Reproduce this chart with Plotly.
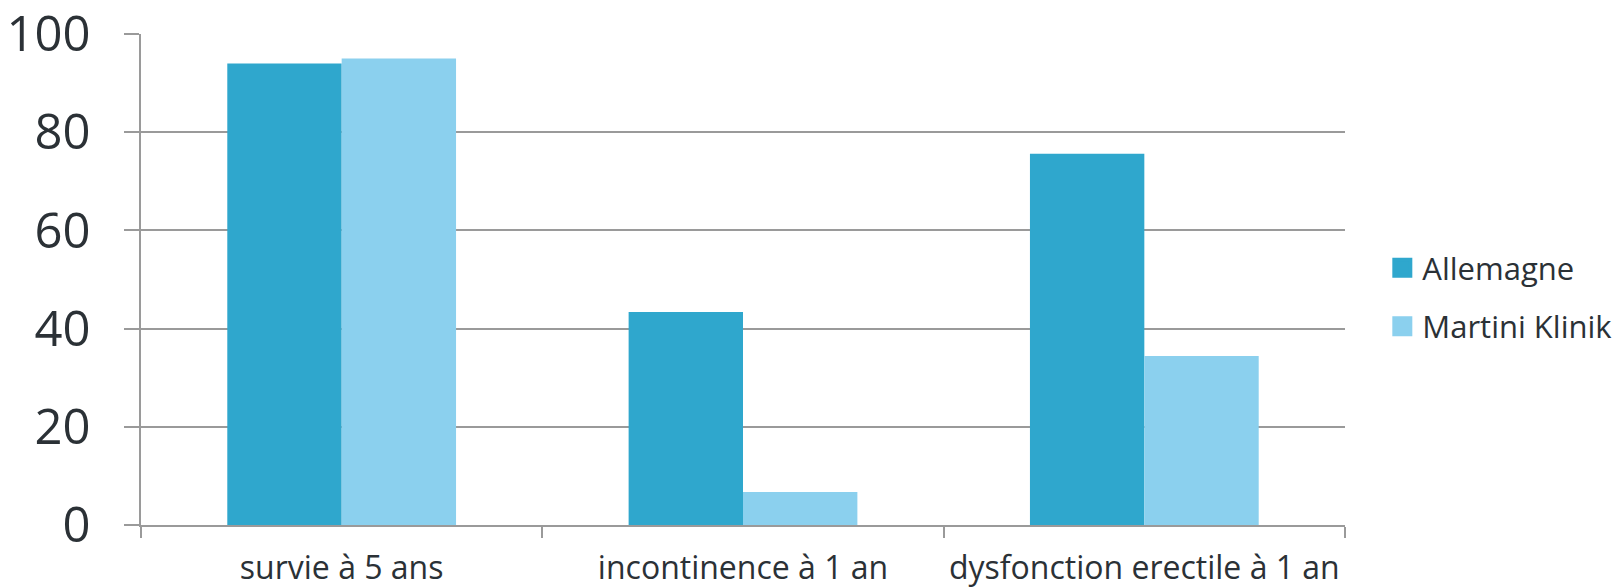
import plotly.graph_objects as go

categories = ["survie à 5 ans", "incontinence à 1 an", "dysfonction erectile à 1 an"]
allemagne = [94, 43.4, 75.6]
martini = [95, 6.7, 34.4]
series_names = ["Allemagne", "Martini Klinik"]
colors = ["#2FA7CD", "#8BD0EE"]
y_ticks = [0, 20, 40, 60, 80, 100]

FONT = "Open Sans"
TXT = "#2b3136"
GRID = "#9a9a9a"

fig = go.Figure()
for name, vals, col in zip(series_names, [allemagne, martini], colors):
    fig.add_trace(go.Bar(x=categories, y=vals, name=name, marker=dict(color=col, line=dict(width=0)),
                         showlegend=False))
for i, (name, col) in enumerate(zip(series_names, colors)):
    fig.add_trace(go.Scatter(x=[None], y=[None], mode="markers", name=name,
                             legendgroup=f"g{i}",
                             marker=dict(symbol="square", size=16, color=col,
                                         line=dict(color=col, width=4))))

fig.update_layout(
    width=1618, height=587,
    margin=dict(l=141, r=273, t=34, b=62, autoexpand=False),
    paper_bgcolor="white", plot_bgcolor="white",
    barmode="group", bargap=0.43, bargroupgap=0,
    font=dict(family=FONT, color=TXT),
    legend=dict(x=1.031, xanchor="left", y=0.464, yanchor="middle",
                font=dict(size=31, color=TXT, family=FONT),
                traceorder="grouped", tracegroupgap=15,
                itemwidth=30),
)
fig.update_yaxes(range=[0, 100], tickvals=y_ticks, showgrid=True, gridcolor=GRID, gridwidth=1.5,
                 showline=True, linecolor=GRID, linewidth=1.5, automargin=False,
                 ticks="outside", ticklen=15, tickcolor=GRID, tickwidth=1.5,
                 tickfont=dict(size=49, color=TXT, family=FONT), ticklabelstandoff=24,
                 ticklabeloverflow="allow", zeroline=False)
fig.update_xaxes(showline=True, linecolor=GRID, linewidth=1.5, automargin=False,
                 ticks="outside", tickson="boundaries", ticklen=11, tickcolor=GRID, tickwidth=1.5,
                 tickangle=0, ticklabeloverflow="allow",
                 tickfont=dict(size=32, color=TXT, family=FONT), ticklabelstandoff=14)

fig.write_html("out.html", config={"displayModeBar": False},
               post_script="document.body.style.margin='0';document.body.style.overflow='hidden';")
